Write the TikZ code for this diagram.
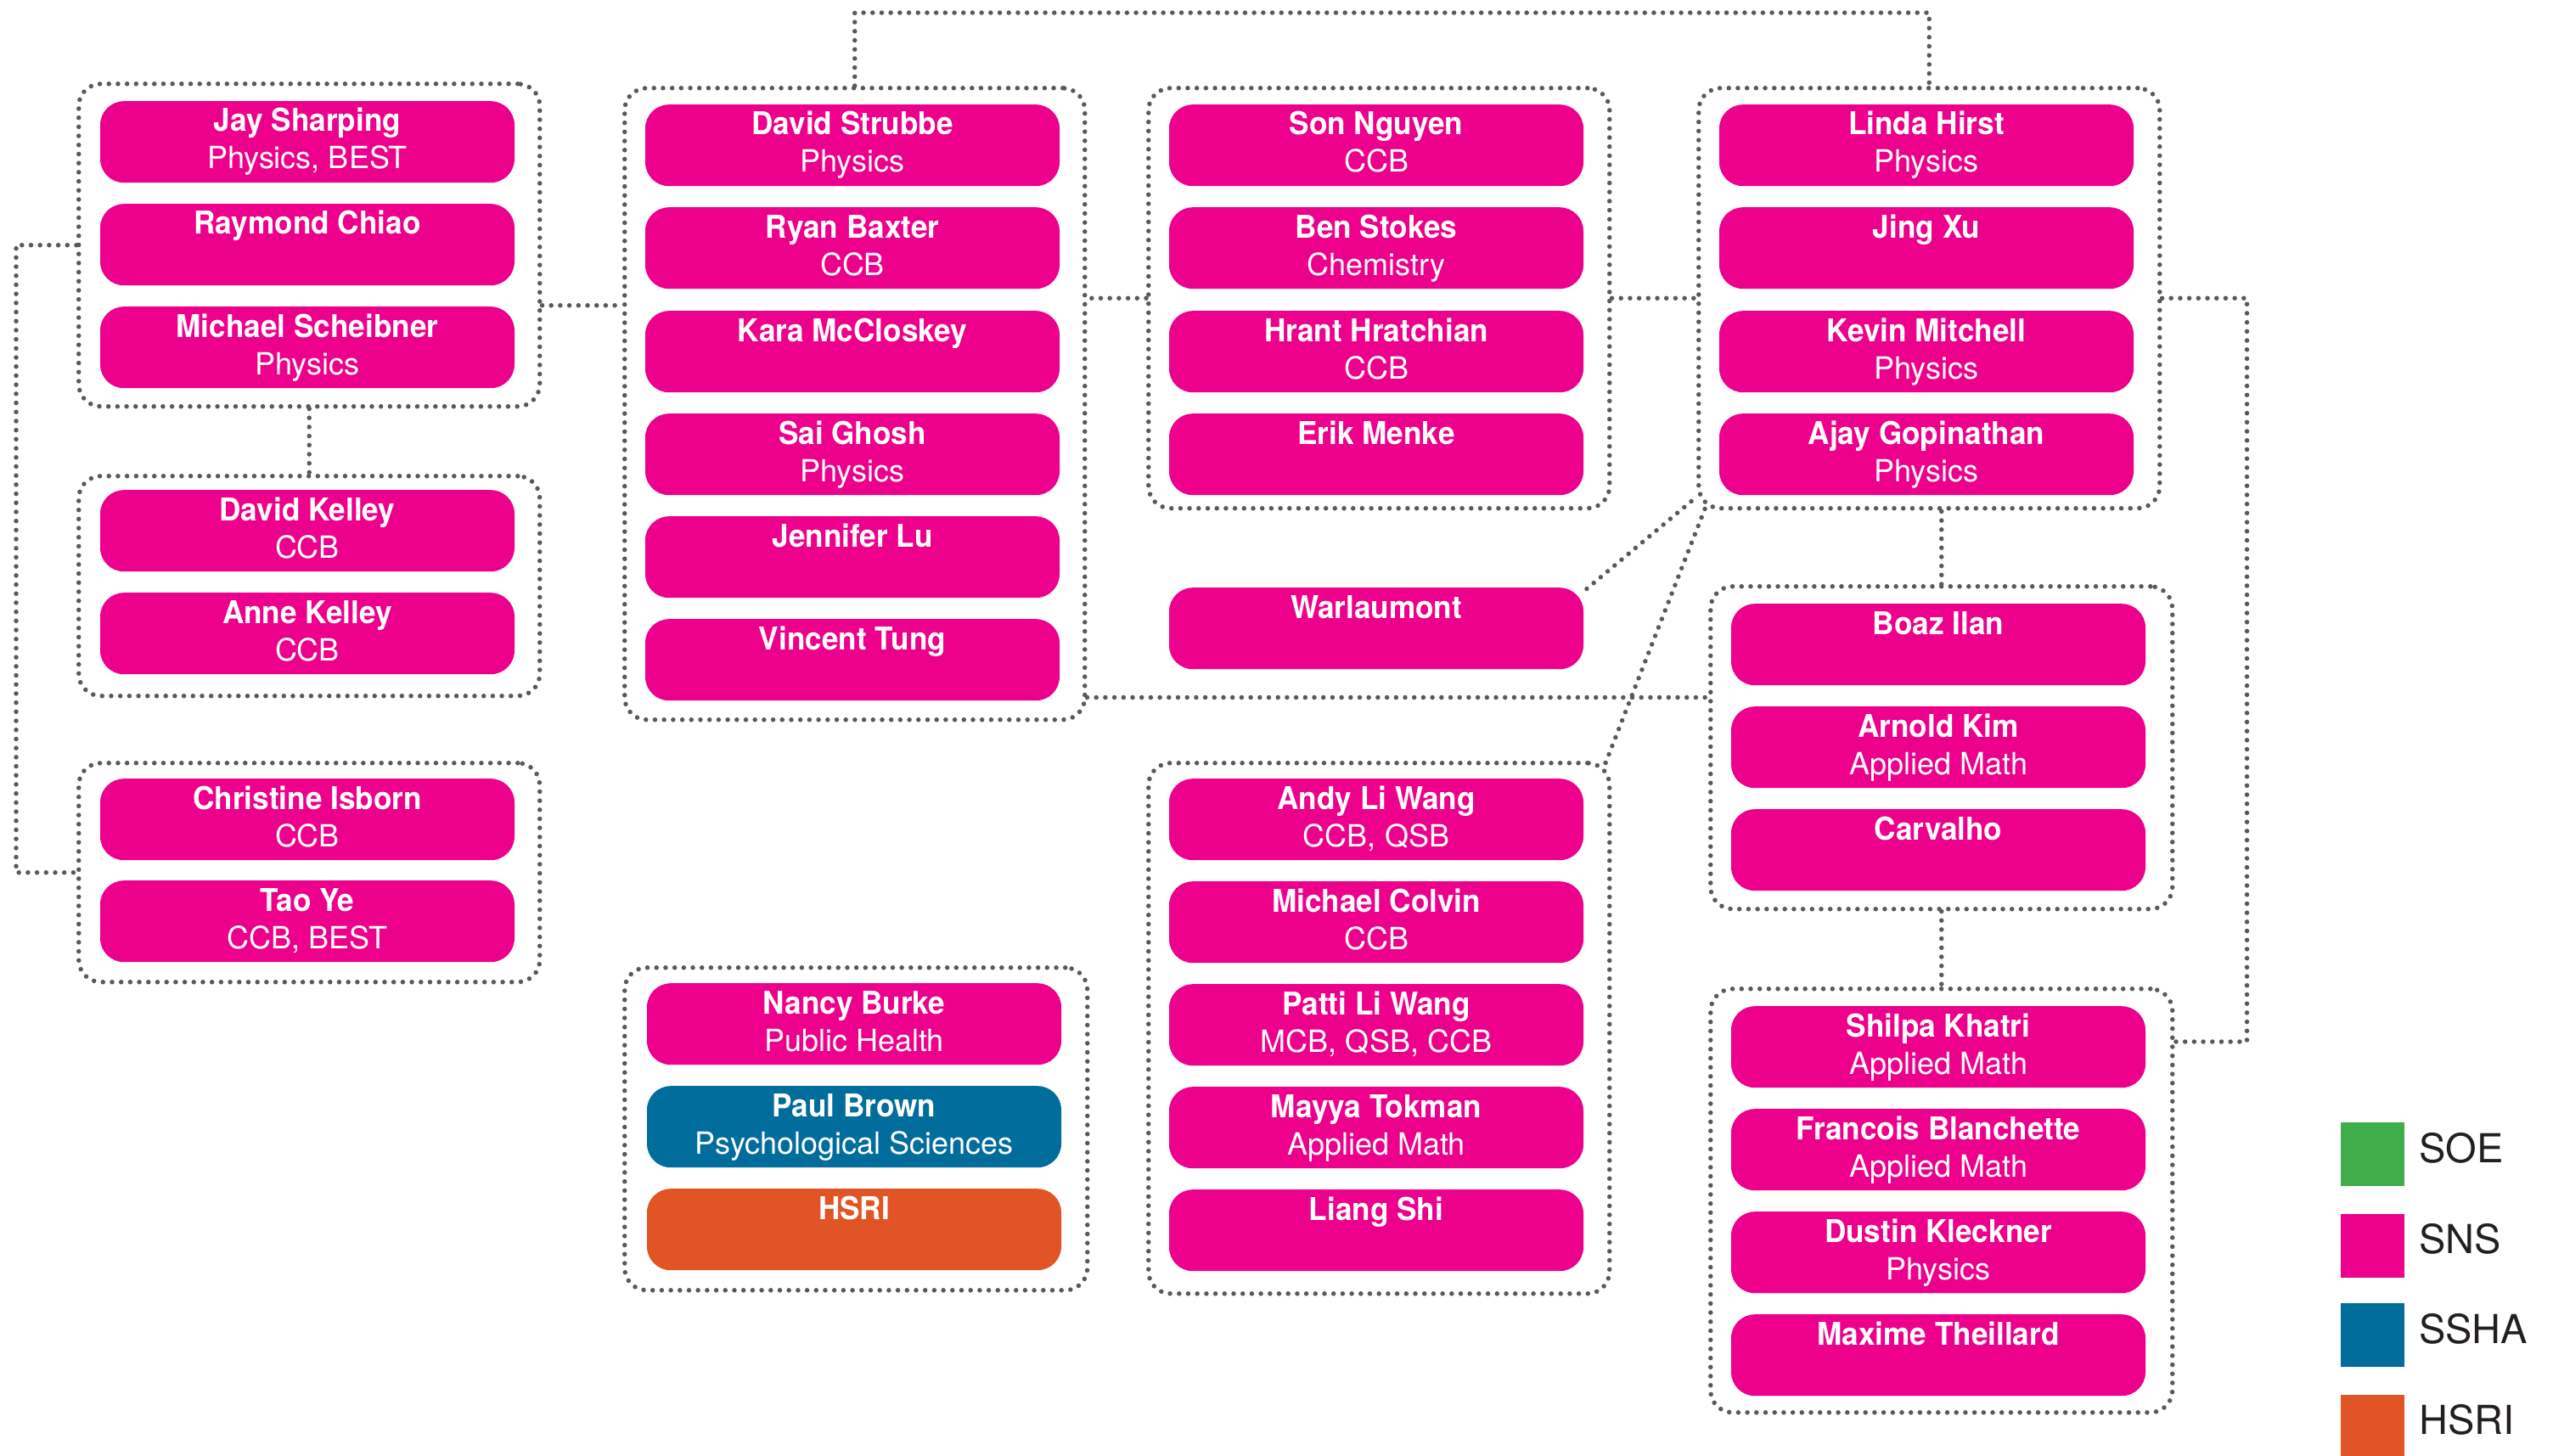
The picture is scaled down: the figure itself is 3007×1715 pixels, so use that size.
\documentclass[tikz,border=0pt]{standalone}
\usepackage{fontspec}
\setmainfont{TeX Gyre Heros}
\newfontfamily\namefont{TeX Gyre Heros}[FakeStretch=0.95]
\usetikzlibrary{calc}
\definecolor{sns}{HTML}{EC008C}
\definecolor{ssha}{HTML}{006D9C}
\definecolor{hsri}{HTML}{E15426}
\definecolor{soe}{HTML}{40AE4A}
\definecolor{dotgray}{HTML}{58595B}
\definecolor{legtxt}{HTML}{231F20}
\tikzset{
 pbox/.style={rectangle, rounded corners=28pt, minimum width=488pt, minimum height=96pt, inner sep=0pt, anchor=north},
 ntext/.style={text=white, font=\namefont\fontsize{37}{40}\selectfont\bfseries, inner sep=0pt, anchor=base},
 stext/.style={text=white, font=\fontsize{36}{40}\selectfont, inner sep=0pt, anchor=base},
 gbox/.style={draw=dotgray, line width=5.5pt, dash pattern=on 0pt off 10.7pt, line cap=round, rounded corners=26pt, inner sep=0pt, anchor=north west},
 dotline/.style={draw=dotgray, line width=5.5pt, dash pattern=on 0pt off 10.7pt, line cap=round},
 legsq/.style={rectangle, minimum size=75pt, inner sep=0pt, anchor=north west},
 legtext/.style={text=legtxt, font=\fontsize{47}{50}\selectfont, inner sep=0pt, anchor=base west},
}
% #1 id, #2 center x, #3 top y, #4 colour, #5 name, #6 dept
\newcommand{\persTwo}[6]{%
 \node[pbox, fill=#4] (#1) at (#2,#3) {};
 \node[ntext] (#1n) at (#2,{#3+36}) {#5};
 \node[stext] (#1s) at (#2,{#3+80}) {#6};
}
\newcommand{\persOne}[5]{%
 \node[pbox, fill=#4] (#1) at (#2,#3) {};
 \node[ntext] (#1n) at (#2,{#3+36}) {#5};
}
\begin{document}
\begin{tikzpicture}[x=1pt,y=-1pt]
\useasboundingbox[fill=white] (0,0) rectangle (3007,1715);

% group boxes
\node[gbox, minimum width=543pt, minimum height=380pt] (gA) at (90,96) {};
\node[gbox, minimum width=543pt, minimum height=259pt] (gB) at (90,558) {};
\node[gbox, minimum width=543pt, minimum height=258pt] (gC) at (90,896) {};
\node[gbox, minimum width=542pt, minimum height=744pt] (gD) at (733,101) {};
\node[gbox, minimum width=543pt, minimum height=495pt] (gE) at (1350,101) {};
\node[gbox, minimum width=543pt, minimum height=495pt] (gF) at (1998,101) {};
\node[gbox, minimum width=544pt, minimum height=380pt] (gG) at (2012,688) {};
\node[gbox, minimum width=544pt, minimum height=499pt] (gH) at (2012,1162) {};
\node[gbox, minimum width=545pt, minimum height=380pt] (gI) at (733,1137) {};
\node[gbox, minimum width=543pt, minimum height=625pt] (gJ) at (1350,896) {};

% people
\persTwo{a1}{362}{119}{sns}{Jay Sharping}{Physics, BEST}
\persOne{a2}{362}{240}{sns}{Raymond Chiao}
\persTwo{a3}{362}{361}{sns}{Michael Scheibner}{Physics}
\persTwo{b1}{362}{577}{sns}{David Kelley}{CCB}
\persTwo{b2}{362}{698}{sns}{Anne Kelley}{CCB}
\persTwo{c1}{362}{917}{sns}{Christine Isborn}{CCB}
\persTwo{c2}{362}{1037}{sns}{Tao Ye}{CCB, BEST}

\persTwo{d1}{1004}{123}{sns}{David Strubbe}{Physics}
\persTwo{d2}{1004}{244}{sns}{Ryan Baxter}{CCB}
\persOne{d3}{1004}{366}{sns}{Kara McCloskey}
\persTwo{d4}{1004}{487}{sns}{Sai Ghosh}{Physics}
\persOne{d5}{1004}{608}{sns}{Jennifer Lu}
\persOne{d6}{1004}{729}{sns}{Vincent Tung}

\persTwo{i1}{1006}{1158}{sns}{Nancy Burke}{Public Health}
\persTwo{i2}{1006}{1279}{ssha}{Paul Brown}{Psychological Sciences}
\persOne{i3}{1006}{1400}{hsri}{HSRI}

\persTwo{e1}{1621}{123}{sns}{Son Nguyen}{CCB}
\persTwo{e2}{1621}{244}{sns}{Ben Stokes}{Chemistry}
\persTwo{e3}{1621}{366}{sns}{Hrant Hratchian}{CCB}
\persOne{e4}{1621}{487}{sns}{Erik Menke}
\persOne{warl}{1621}{692}{sns}{Warlaumont}

\persTwo{j1}{1621}{917}{sns}{Andy Li Wang}{CCB, QSB}
\persTwo{j2}{1621}{1038}{sns}{Michael Colvin}{CCB}
\persTwo{j3}{1621}{1159}{sns}{Patti Li Wang}{MCB, QSB, CCB}
\persTwo{j4}{1621}{1280}{sns}{Mayya Tokman}{Applied Math}
\persOne{j5}{1621}{1401}{sns}{Liang Shi}

\persTwo{f1}{2269}{123}{sns}{Linda Hirst}{Physics}
\persOne{f2}{2269}{244}{sns}{Jing Xu}
\persTwo{f3}{2269}{366}{sns}{Kevin Mitchell}{Physics}
\persTwo{f4}{2269}{487}{sns}{Ajay Gopinathan}{Physics}

\persOne{g1}{2283}{711}{sns}{Boaz Ilan}
\persTwo{g2}{2283}{832}{sns}{Arnold Kim}{Applied Math}
\persOne{g3}{2283}{953}{sns}{Carvalho}

\persTwo{h1}{2283}{1185}{sns}{Shilpa Khatri}{Applied Math}
\persTwo{h2}{2283}{1306}{sns}{Francois Blanchette}{Applied Math}
\persTwo{h3}{2283}{1427}{sns}{Dustin Kleckner}{Physics}
\persOne{h4}{2283}{1548}{sns}{Maxime Theillard}

% connectors
\draw[dotline] (gD.north) -- (gD.north |- 0,15) -| (gF.north);
\draw[dotline] (gA.west) -- ++(-71,0) |- (gC.west);
\draw[dotline] (gA.south) -- (gB.north);
\draw[dotline] ([yshift=-71pt]gA.east) coordinate (c4) -- (c4 -| gD.west);
\draw[dotline] (gE.west) -- (gE.west -| gD.east);
\draw[dotline] (gE.east) -- (gF.west);
\draw[dotline] (gF.east) -- ++(100,0) |- ([yshift=-65pt]gH.north east);
\draw[dotline] (gG.north) -- (gG.north |- gF.south);
\draw[dotline] (gG.south) -- (gH.north);
\draw[dotline] ([yshift=29pt]gD.south east) coordinate (c10) -- (c10 -| gG.west);
\draw[dotline] ([shift={(-6pt,11pt)}]gF.south west) -- ([shift={(-4pt,-8pt)}]warl.north east);
\draw[dotline] ([shift={(10pt,2pt)}]gF.south west) -- ([shift={(-8pt,-4pt)}]gJ.north east);

% legend
\node[legsq, fill=soe] (lsoe) at (2757,1322) {};
\node[legsq, fill=sns] (lsns) at (2757,1430) {};
\node[legsq, fill=ssha] (lssha) at (2757,1535) {};
\node[legsq, fill=hsri] (lhsri) at (2757,1643) {};
\node[legtext] (tsoe) at (2849,1369) {SOE};
\node[legtext] (tsns) at (2849,1476) {SNS};
\node[legtext] (tssha) at (2849,1582) {SSHA};
\node[legtext] (thsri) at (2849,1689) {HSRI};
\end{tikzpicture}
\end{document}
